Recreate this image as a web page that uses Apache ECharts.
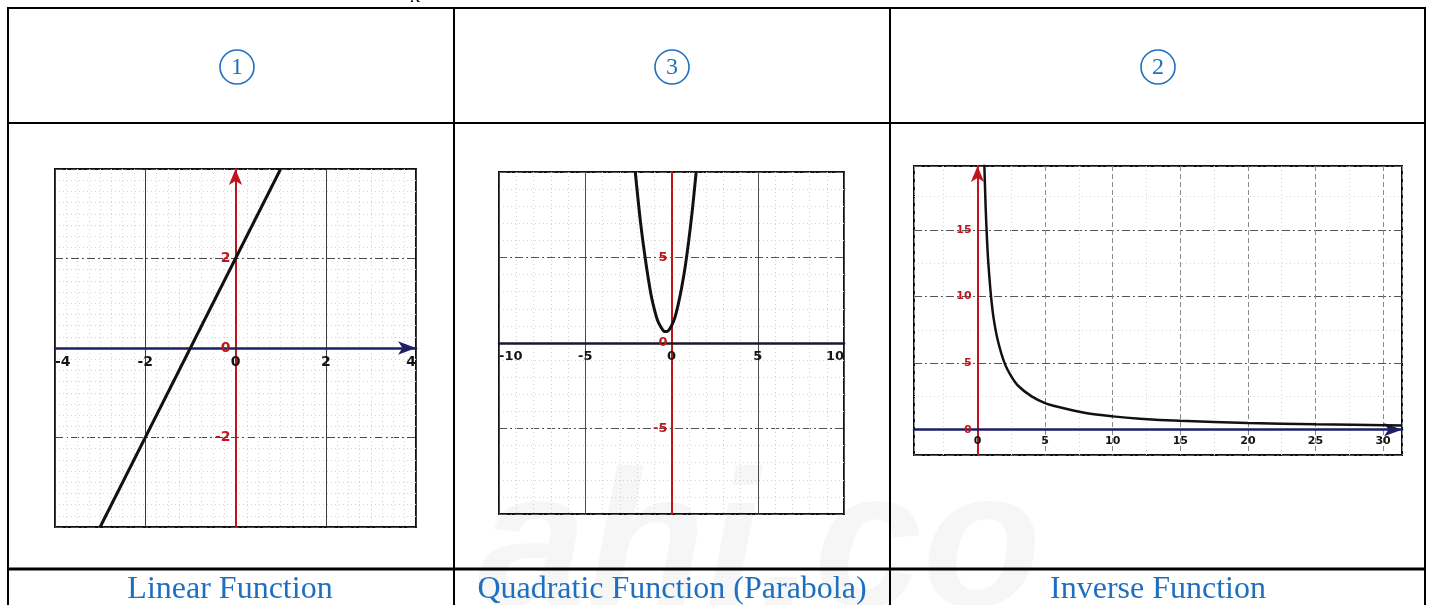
<!DOCTYPE html>
<html>
<head>
<meta charset="utf-8">
<script src="https://cdn.jsdelivr.net/npm/echarts@6/dist/echarts.min.js"></script>
<style>
  html, body { margin: 0; padding: 0; background: #ffffff; }
  #main { width: 1430px; height: 605px; }
</style>
</head>
<body>
<div id="main"></div>
<script>
// ---- data -------------------------------------------------------------
// Linear function: the straight line between the points where it leaves the frame
const linearX = [-3, 1];
const linearY = [-4, 4];

// Quadratic function (parabola)
const quadX = [-2.1, -1.8, -1.5, -1.2, -1.0, -0.8, -0.6, -0.45, -0.33, -0.2, 0, 0.2, 0.4, 0.6, 0.8, 1.0, 1.2, 1.43];
const quadY = [10.0, 7.1, 4.8, 2.9, 2.0, 1.3, 0.9, 0.7, 0.67, 0.7, 1.0, 1.5, 2.3, 3.3, 4.5, 6.0, 7.7, 10.0];

// Inverse function, points
const invX = [0.5, 0.6, 0.7, 0.8, 1, 1.2, 1.5, 2, 2.5, 3, 4, 5, 6, 8, 10, 12, 15, 20, 25, 31.4];
const invY = [20, 16.7, 14.3, 12.5, 10, 8.3, 6.7, 5, 4, 3.3, 2.5, 2, 1.7, 1.25, 1, 0.83, 0.67, 0.5, 0.4, 0.32];

// Table text
const circledNumbers = ['1', '3', '2'];
const functionNames = ['Linear Function', 'Quadratic Function (Parabola)', 'Inverse Function'];

// ---- helpers ----------------------------------------------------------
const pairs = (xs, ys) => xs.map((x, i) => [x, ys[i]]);

const BLUE = '#1f6fc1';
const RED = '#c0161b';
const NAVY = '#1c1f66';
const LABEL_FONT = 'DejaVu Sans';

// plot boxes (pixels) and their value ranges
const boxes = [
  { left: 55, top: 169, width: 361, height: 358, x: [-4, 4], y: [-4, 4] },
  { left: 499, top: 172, width: 345, height: 342, x: [-10, 10], y: [-10, 10] },
  { left: 914, top: 166, width: 488, height: 289, x: [-4.7, 31.4], y: [-1.9, 19.8] }
];

// shift each axis from the frame edge onto the zero line of the other axis
function zeroShiftX(b) { return -(0 - b.y[0]) / (b.y[1] - b.y[0]) * b.height; }
function zeroShiftY(b) { return -(0 - b.x[0]) / (b.x[1] - b.x[0]) * b.width; }

function xAxisFor(i, interval, cfg) {
  const b = boxes[i];
  return {
    gridIndex: i, type: 'value', min: b.x[0], max: b.x[1],
    interval: interval, splitNumber: cfg.splitNumber,
    position: 'bottom', offset: zeroShiftX(b),
    axisLine: {
      onZero: false,
      symbol: cfg.arrow ? ['none', 'arrow'] : 'none',
      symbolSize: [10, 18],
      lineStyle: { color: cfg.lineColor, width: cfg.lineWidth }
    },
    axisTick: { show: false },
    axisLabel: {
      color: '#151515', fontWeight: 'bold', fontFamily: LABEL_FONT,
      fontSize: cfg.fontSize, margin: cfg.margin,
      showMinLabel: cfg.showEnds, showMaxLabel: cfg.showEnds,
      alignMinLabel: 'left', alignMaxLabel: 'right'
    },
    splitLine: { show: true, lineStyle: cfg.major },
    minorTick: { show: false, splitNumber: cfg.minor },
    minorSplitLine: { show: true, lineStyle: { color: '#d2d2d2', width: 1, type: [1, 3] } }
  };
}

function yAxisFor(i, interval, cfg) {
  const b = boxes[i];
  return {
    gridIndex: i, type: 'value', min: b.y[0], max: b.y[1],
    interval: interval, splitNumber: cfg.splitNumber,
    position: 'left', offset: zeroShiftY(b),
    axisLine: {
      onZero: false,
      symbol: cfg.arrow ? ['none', 'arrow'] : 'none',
      symbolSize: [10, 16],
      lineStyle: { color: RED, width: 2 }
    },
    axisTick: { show: false },
    axisLabel: {
      color: RED, fontWeight: 'bold', fontFamily: LABEL_FONT,
      fontSize: cfg.fontSize, margin: cfg.margin,
      showMinLabel: false, showMaxLabel: false
    },
    splitLine: { show: true, lineStyle: cfg.major },
    minorTick: { show: false, splitNumber: cfg.minor },
    minorSplitLine: { show: true, lineStyle: { color: '#d2d2d2', width: 1, type: [1, 3] } }
  };
}

const frameStyle = { show: true, borderColor: '#111', borderWidth: 2, backgroundColor: 'transparent' };

// ---- table drawn around the graphs -----------------------------------
const tableLines = [
  [7, 8, 1426, 8], [8, 7, 8, 605], [1425, 7, 1425, 605],
  [454, 8, 454, 605], [890, 8, 890, 605], [8, 123, 1425, 123]
].map(p => ({
  type: 'line', z: 10,
  shape: { x1: p[0], y1: p[1], x2: p[2], y2: p[3] },
  style: { stroke: '#000', lineWidth: 2 }
}));
tableLines.push({
  type: 'line', z: 10,
  shape: { x1: 8, y1: 569, x2: 1425, y2: 569 },
  style: { stroke: '#000', lineWidth: 3 }
});

const circleCenters = [237, 672, 1158];
const circles = circledNumbers.map((n, i) => ({
  type: 'group', z: 10,
  children: [
    { type: 'circle', shape: { cx: circleCenters[i], cy: 67, r: 17 },
      style: { fill: 'none', stroke: BLUE, lineWidth: 1.6 } },
    { type: 'text', style: { text: n, x: circleCenters[i], y: 68, align: 'center', verticalAlign: 'middle',
      fill: BLUE, font: '24px "Liberation Serif"' } }
  ]
}));

const nameCenters = [230, 672, 1158];
const names = functionNames.map((t, i) => ({
  type: 'text', z: 10,
  style: { text: t, x: nameCenters[i], y: 590, align: 'center', verticalAlign: 'middle',
    fill: BLUE, font: '32px "Liberation Serif"' }
}));

const extras = [
  // faint site mark across the lower middle of the table
  { type: 'text', z: -5,
    style: { text: 'ahi.co', x: 478, y: 650, align: 'left', verticalAlign: 'bottom',
      fill: 'rgba(0,0,0,0.035)', font: 'italic bold 195px "Liberation Sans"' } },
  // tail of the symbol from the line above the table
  { type: 'text', z: 10,
    style: { text: 'x', x: 416, y: 7, align: 'center', verticalAlign: 'bottom',
      fill: '#000', font: 'italic 22px "Liberation Serif"' } }
];

// ---- chart -------------------------------------------------------------
const chart = echarts.init(document.getElementById('main'), null, { renderer: 'canvas' });

chart.setOption({
  animation: false,
  backgroundColor: '#ffffff',
  grid: boxes.map(b => Object.assign({ left: b.left, top: b.top, width: b.width, height: b.height }, frameStyle)),
  xAxis: [
    xAxisFor(0, 2, {
      arrow: true, lineColor: NAVY, lineWidth: 2.5, fontSize: 14, margin: 7, showEnds: true, minor: 8,
      major: { color: '#3c3c3c', width: 1 }
    }),
    xAxisFor(1, 5, {
      arrow: false, lineColor: '#1a1a2a', lineWidth: 2.5, fontSize: 13, margin: 7, showEnds: true, minor: 5,
      major: { color: '#4a4a4a', width: 1 }
    }),
    xAxisFor(2, null, {
      splitNumber: 7, arrow: true, lineColor: NAVY, lineWidth: 2.5, fontSize: 11, margin: 6, showEnds: false, minor: 2,
      major: { color: '#8a8a8a', width: 1, type: [5, 3] }
    })
  ],
  yAxis: [
    yAxisFor(0, 2, {
      arrow: true, fontSize: 14, margin: 5, minor: 8,
      major: { color: '#4a4a4a', width: 1, type: [8, 3, 2, 3] }
    }),
    yAxisFor(1, 5, {
      arrow: false, fontSize: 13, margin: 4, minor: 5,
      major: { color: '#555', width: 1, type: [8, 3, 2, 3] }
    }),
    yAxisFor(2, null, {
      splitNumber: 5, arrow: true, fontSize: 11, margin: 6, minor: 2,
      major: { color: '#555', width: 1, type: [8, 3, 2, 3] }
    })
  ],
  series: [
    { type: 'line', xAxisIndex: 0, yAxisIndex: 0, data: pairs(linearX, linearY),
      showSymbol: false, lineStyle: { color: '#111', width: 3 }, z: 5 },
    { type: 'line', xAxisIndex: 1, yAxisIndex: 1, data: pairs(quadX, quadY), smooth: 0.3,
      showSymbol: false, lineStyle: { color: '#111', width: 3 }, z: 5 },
    { type: 'line', xAxisIndex: 2, yAxisIndex: 2, data: pairs(invX, invY), smooth: 0.3,
      showSymbol: false, lineStyle: { color: '#111', width: 2.5 }, z: 5 }
  ],
  graphic: [].concat(extras, tableLines, circles, names)
});
</script>
</body>
</html>
